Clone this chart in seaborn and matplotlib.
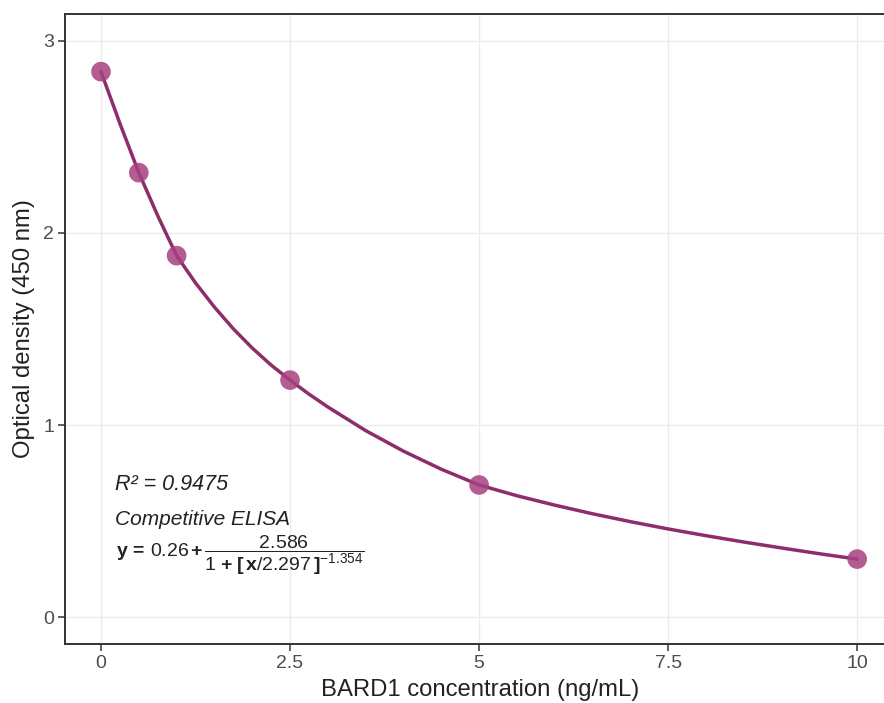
import matplotlib
matplotlib.use("Agg")
import matplotlib.pyplot as plt
import seaborn as sns
import pandas as pd

# measured standards
conc = [0, 0.5, 1, 2.5, 5, 10]
od = [2.84, 2.314, 1.882, 1.234, 0.688, 0.302]

# fitted curve
curve_x = [0, 0.25, 0.5, 0.75, 1, 1.25, 1.5, 1.75, 2, 2.25, 2.5, 2.75, 3, 3.5, 4, 4.5,
           5, 5.5, 6, 6.5, 7, 7.5, 8, 8.5, 9, 9.5, 10]
curve_y = [2.84, 2.57, 2.314, 2.09, 1.882, 1.740, 1.614, 1.501, 1.401, 1.312, 1.234,
           1.161, 1.094, 0.971, 0.864, 0.770, 0.688, 0.632, 0.583, 0.538, 0.497,
           0.459, 0.424, 0.391, 0.360, 0.330, 0.302]

x_ticks = [0, 2.5, 5, 7.5, 10]
x_tick_labels = ["0", "2.5", "5", "7.5", "10"]
y_ticks = [0, 1, 2, 3]
y_tick_labels = ["0", "1", "2", "3"]

r2_text = "R² = 0.9475"
method_text = "Competitive ELISA"
formula_text = (r"$\mathbf{y}\,\mathbf{=}\,0.26\,\mathbf{+}\,\dfrac{2.586}"
                r"{1\;\mathbf{+}\;\mathbf{[}\,\mathbf{x}/2.297\,\mathbf{]}^{-1.354}}$")
x_label = "BARD1 concentration (ng/mL)"
y_label = "Optical density (450 nm)"

sns.set_theme(style="white")
plt.rcParams["font.family"] = ["Liberation Sans", "DejaVu Sans"]
plt.rcParams["mathtext.fontset"] = "custom"
plt.rcParams["mathtext.rm"] = "Liberation Sans"
plt.rcParams["mathtext.it"] = "Liberation Sans:italic"
plt.rcParams["mathtext.bf"] = "Liberation Sans:bold"

pts = pd.DataFrame({"conc": conc, "od": od})
crv = pd.DataFrame({"x": curve_x, "y": curve_y})

fig = plt.figure(figsize=(8.84, 7.03), dpi=100)
ax = fig.add_axes([65 / 884, 59 / 703, 830 / 884, 630 / 703])

sns.lineplot(data=crv, x="x", y="y", ax=ax, color="#8E2D6B", linewidth=2.5,
             zorder=3, sort=False)
sns.scatterplot(data=pts, x="conc", y="od", ax=ax, color="#A8407F", s=200,
                alpha=0.85, edgecolor="none", zorder=4)

ax.set_xlim(-0.476, 10.5)
ax.set_ylim(-0.14, 3.14)
ax.set_xticks(x_ticks)
ax.set_xticklabels(x_tick_labels)
ax.set_yticks(y_ticks)
ax.set_yticklabels(y_tick_labels)
ax.grid(True, color="#EBEBEB", linewidth=1.0, zorder=0)
ax.set_axisbelow(True)

for side in ["left", "bottom", "top"]:
    ax.spines[side].set_color("#333333")
    ax.spines[side].set_linewidth(1.4)
ax.spines["right"].set_visible(False)

ax.tick_params(axis="both", which="major", length=5, width=1.1, color="#333333",
               labelsize=14, labelcolor="#4D4D4D", pad=3, left=True, bottom=True)

ax.set_xlabel(x_label, fontsize=17.2, color="#222222", labelpad=5)
ax.set_ylabel(y_label, fontsize=17.2, color="#222222", labelpad=6)

ax.text(0.185, 0.688, r2_text, fontsize=15.5, style="italic", color="#222222",
        ha="left", va="center")
ax.text(0.185, 0.51, method_text, fontsize=15, style="italic", color="#222222",
        ha="left", va="center")
ax.text(0.2, 0.323, formula_text, fontsize=14, color="#222222",
        ha="left", va="center")

fig.savefig("out.png", dpi=100)
